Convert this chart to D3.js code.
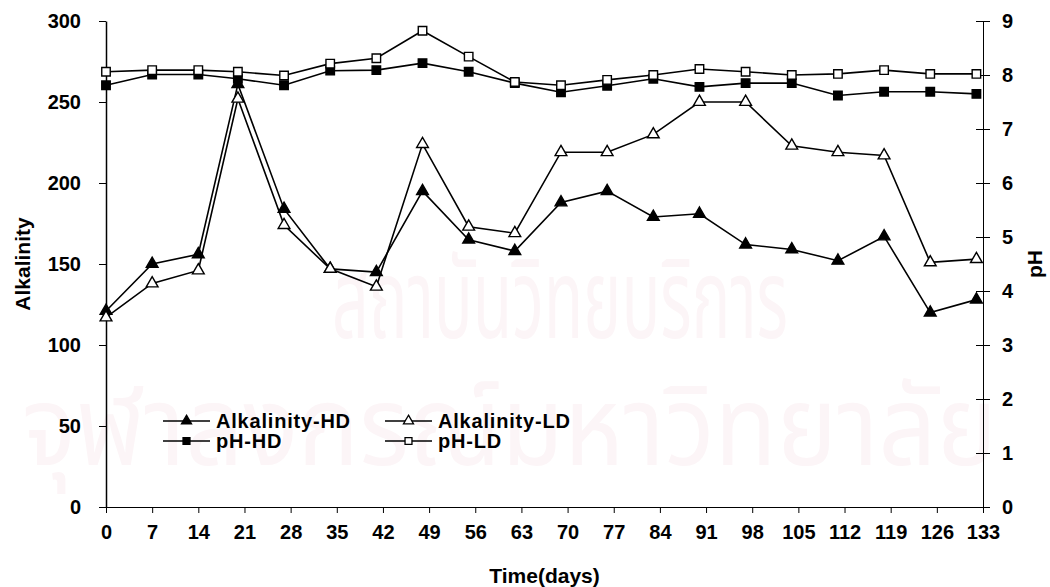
<!DOCTYPE html>
<html>
<head>
<meta charset="utf-8">
<script src="https://cdn.jsdelivr.net/npm/d3@7"></script>
<style>
  body { margin: 0; background: #fff; }
  svg { display: block; font-family: "Liberation Sans", Arial, sans-serif; font-weight: bold; }
  .axis text { font-size: 20px; font-weight: bold; fill: #000; }
  .axis path, .axis line { stroke: #000; }
  .watermark { fill: #fcf5f7; font-family: "Noto Sans Thai", "Noto Sans", sans-serif; font-weight: normal; }
</style>
</head>
<body>
<div id="chart"></div>
<script>
// sampling days
const days = [0, 7, 14, 20, 27, 34, 41, 48, 55, 62, 69, 76, 83, 90, 97, 104, 111, 118, 125, 132];
const xTicks = [0, 7, 14, 21, 28, 35, 42, 49, 56, 63, 70, 77, 84, 91, 98, 105, 112, 119, 126, 133];

const alkHD = [121, 150, 156, 261, 184, 147, 145, 195, 165, 158, 188, 195, 179, 181, 162, 159, 152, 167, 120, 128];
const alkLD = [117, 138, 146, 252, 174, 147, 136, 224, 173, 169, 219, 219, 230, 250, 250, 223, 219, 217, 151, 153];
const phHD = [7.81, 8.01, 8.01, 7.93, 7.81, 8.08, 8.09, 8.22, 8.06, 7.85, 7.68, 7.80, 7.93, 7.78, 7.85, 7.85, 7.62, 7.69, 7.69, 7.65];
const phLD = [8.06, 8.09, 8.09, 8.06, 7.99, 8.21, 8.31, 8.82, 8.34, 7.87, 7.81, 7.91, 8.00, 8.11, 8.06, 8.00, 8.02, 8.09, 8.02, 8.02];

const leftTicks = [0, 50, 100, 150, 200, 250, 300];
const rightTicks = [0, 1, 2, 3, 4, 5, 6, 7, 8, 9];

const width = 1050;
const height = 587;
const margin = {top: 21, right: 67, bottom: 80, left: 106};
const chartWidth = width - margin.left - margin.right;
const chartHeight = height - margin.top - margin.bottom;

const svg = d3.select('#chart')
  .append('svg')
    .attr('width', width)
    .attr('height', height);

// faint background watermark
svg.append('text')
    .attr('class', 'watermark')
    .attr('x', 332).attr('y', 338)
    .attr('textLength', 456)
    .attr('lengthAdjust', 'spacingAndGlyphs')
    .style('font-size', '110px')
    .text('สถาบันวิทยบริการ');
svg.append('text')
    .attr('class', 'watermark')
    .attr('x', 22).attr('y', 465)
    .attr('textLength', 975)
    .attr('lengthAdjust', 'spacingAndGlyphs')
    .style('font-size', '110px')
    .text('จุฬาลงกรณ์มหาวิทยาลัย');

const g = svg.append('g')
    .attr('transform', `translate(${margin.left},${margin.top})`);

const xScale = d3.scaleLinear().domain([0, 133]).range([0, chartWidth]);
const yLeft = d3.scaleLinear().domain([0, 300]).range([chartHeight, 0]);
const yRight = d3.scaleLinear().domain([0, 9]).range([chartHeight, 0]);

// axes
const xAxis = g.append('g')
    .attr('class', 'axis')
    .attr('transform', `translate(0,${chartHeight})`)
    .call(d3.axisBottom(xScale).tickValues(xTicks).tickSize(6).tickSizeOuter(0).tickPadding(12));
xAxis.select('.domain').attr('d', `M-7,0.5H${chartWidth}`);

const leftAxis = g.append('g')
    .attr('class', 'axis')
    .call(d3.axisLeft(yLeft).tickValues(leftTicks).tickSize(7).tickSizeOuter(0).tickPadding(18));
leftAxis.select('.domain').attr('stroke', '#808080').attr('stroke-width', 1.5);
leftAxis.selectAll('.tick line').attr('stroke', '#555');

const rightAxis = g.append('g')
    .attr('class', 'axis')
    .attr('transform', `translate(${chartWidth},0)`)
    .call(d3.axisRight(yRight).tickValues(rightTicks).tickSize(7).tickSizeOuter(0).tickPadding(12));
rightAxis.selectAll('.tick line').attr('x1', -7);
rightAxis.select('.domain').attr('stroke', '#444');

// axis titles
svg.append('text')
    .attr('transform', `translate(30,${margin.top + yLeft(150)}) rotate(-90)`)
    .attr('text-anchor', 'middle')
    .style('font-size', '21px')
    .text('Alkalinity');
svg.append('text')
    .attr('transform', `translate(1042,${margin.top + yRight(4.5)}) rotate(-90)`)
    .attr('text-anchor', 'middle')
    .style('font-size', '21px')
    .text('pH');
svg.append('text')
    .attr('x', margin.left + chartWidth / 2)
    .attr('y', 583)
    .attr('text-anchor', 'middle')
    .style('font-size', '21px')
    .text('Time(days)');

const series = [
  {name: 'Alkalinity-HD', values: alkHD, y: yLeft, symbol: d3.symbolTriangle, fill: '#000'},
  {name: 'Alkalinity-LD', values: alkLD, y: yLeft, symbol: d3.symbolTriangle, fill: '#fff'},
  {name: 'pH-HD', values: phHD, y: yRight, symbol: d3.symbolSquare, fill: '#000'},
  {name: 'pH-LD', values: phLD, y: yRight, symbol: d3.symbolSquare, fill: '#fff'}
];

series.forEach(s => {
  const line = d3.line()
      .x((d, i) => xScale(days[i]))
      .y(d => s.y(d));
  const sg = g.append('g');
  sg.append('path')
      .datum(s.values)
      .attr('fill', 'none')
      .attr('stroke', '#000')
      .attr('stroke-width', 1.6)
      .attr('d', line);
  const sym = d3.symbol().type(s.symbol).size(s.symbol === d3.symbolSquare ? 72 : 60);
  sg.selectAll('path.marker')
    .data(s.values)
    .enter()
    .append('path')
      .attr('class', 'marker')
      .attr('transform', (d, i) => `translate(${xScale(days[i])},${s.y(d)})`)
      .attr('d', sym)
      .attr('fill', s.fill)
      .attr('stroke', '#000')
      .attr('stroke-width', 1.4);
});

// legend
const legendPos = [
  {x: 163, y: 421}, {x: 385, y: 421},
  {x: 163, y: 441}, {x: 385, y: 441}
];
series.forEach((s, i) => {
  const p = legendPos[i];
  const lg = svg.append('g').attr('transform', `translate(${p.x},${p.y})`);
  lg.append('line')
      .attr('x1', 0).attr('x2', 47)
      .attr('stroke', '#000').attr('stroke-width', 1.6);
  lg.append('path')
      .attr('transform', 'translate(23.5,0)')
      .attr('d', d3.symbol().type(s.symbol).size(s.symbol === d3.symbolSquare ? 48 : 44))
      .attr('fill', s.fill)
      .attr('stroke', '#000')
      .attr('stroke-width', 1.3);
  lg.append('text')
      .attr('x', 53)
      .attr('y', 7)
      .style('font-size', '20px')
      .style('letter-spacing', '0.8px')
      .text(s.name);
});
</script>
</body>
</html>
